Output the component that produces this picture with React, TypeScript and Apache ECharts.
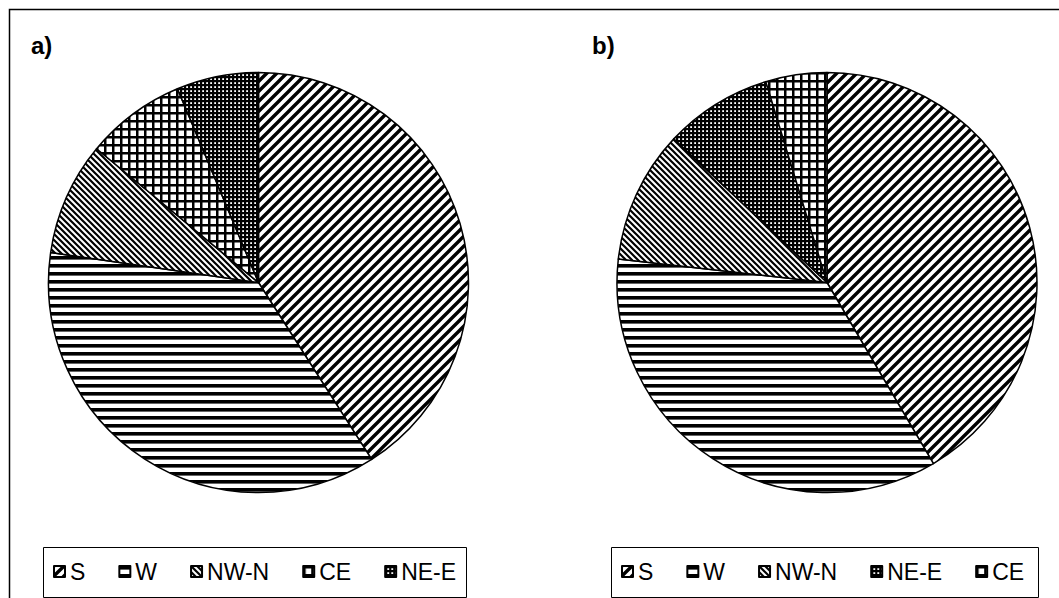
import React, { useEffect, useRef } from "react";
import * as echarts from "echarts";

const namesA = ["S", "W", "NW-N", "CE", "NE-E"];
const valuesA = [40.9, 36.3, 8.7, 7.7, 6.3];
const namesB = ["S", "W", "NW-N", "NE-E", "CE"];
const valuesB = [41.5, 35.2, 10.2, 8.3, 4.7];
const panelLabels = ["a)", "b)"];

function pat(inner: string, w: number, h: number) {
  const svg = `<svg xmlns="http://www.w3.org/2000/svg" width="${w}" height="${h}"><rect width="${w}" height="${h}" fill="#fff"/>${inner}</svg>`;
  return {
    image: "data:image/svg+xml;charset=utf-8," + encodeURIComponent(svg),
    repeat: "repeat",
    imageWidth: w,
    imageHeight: h,
  } as any;
}

const patterns: Record<string, any> = {
  S: pat(
    `<path d="M-5,5 L5,-5 M0,10 L10,0 M5,15 L15,5" stroke="#000" stroke-width="3.4"/>`,
    10,
    10
  ),
  W: pat(`<rect x="0" y="0" width="8" height="3.6" fill="#000"/>`, 8, 8),
  "NW-N": pat(
    `<path d="M-3,3 L3,9 M0,0 L6,6 M3,-3 L9,3" stroke="#000" stroke-width="2.2"/>`,
    6,
    6
  ),
  CE: pat(
    `<rect x="0" y="0" width="2.5" height="8" fill="#000"/><rect x="0" y="0" width="8" height="2.5" fill="#000"/>`,
    8,
    8
  ),
  "NE-E": pat(
    `<rect x="0" y="0" width="2.2" height="4" fill="#000"/><rect x="0" y="0" width="4" height="2.2" fill="#000"/>`,
    4,
    4
  ),
};

function makeData(names: string[], values: number[]) {
  return names.map((n, i) => ({
    name: n,
    value: values[i],
    itemStyle: { color: patterns[n] },
  }));
}

const FONT = "'Liberation Sans', Arial, sans-serif";

export default function App() {
  const ref = useRef<HTMLDivElement>(null);
  useEffect(() => {
    if (!ref.current) return;
    const chart = echarts.init(ref.current, undefined, { renderer: "svg" });
    const pieBase = {
      type: "pie",
      radius: 210,
      startAngle: 90,
      clockwise: true,
      label: { show: false },
      labelLine: { show: false },
      itemStyle: { borderColor: "#000", borderWidth: 1.5 },
      emphasis: { disabled: true },
      silent: true,
    };
    const legendBase = {
      orient: "horizontal",
      top: 560,
      padding: 0,
      icon: "rect",
      itemWidth: 11,
      itemHeight: 11,
      itemGap: 33,
      selectedMode: false,
      textStyle: { fontSize: 23, fontFamily: FONT, color: "#000" },
    };
    chart.setOption({
      animation: false,
      backgroundColor: "#fff",
      legend: [
        { ...legendBase, data: namesA, left: 53 },
        { ...legendBase, data: namesB, left: 621 },
      ],
      series: [
        { ...pieBase, name: "a", center: [258.5, 282.5], data: makeData(namesA, valuesA) },
        { ...pieBase, name: "b", center: [827, 282.5], data: makeData(namesB, valuesB) },
      ],
      graphic: [
        {
          type: "rect",
          shape: { x: 9.5, y: 9.5, width: 1200, height: 800 },
          style: { fill: "none", stroke: "#000", lineWidth: 1.5 },
          silent: true,
        },
        {
          type: "rect",
          shape: { x: 43.5, y: 547.5, width: 423, height: 50 },
          style: { fill: "none", stroke: "#000", lineWidth: 1 },
          silent: true,
        },
        {
          type: "rect",
          shape: { x: 611.5, y: 547.5, width: 427, height: 50 },
          style: { fill: "none", stroke: "#000", lineWidth: 1 },
          silent: true,
        },
        {
          type: "text",
          x: 31,
          y: 33,
          style: { text: panelLabels[0], font: `bold 24px ${FONT}`, fill: "#000", verticalAlign: "top" },
        },
        {
          type: "text",
          x: 592,
          y: 33,
          style: { text: panelLabels[1], font: `bold 24px ${FONT}`, fill: "#000", verticalAlign: "top" },
        },
      ],
    });
    return () => chart.dispose();
  }, []);
  return (
    <div
      ref={ref}
      style={{ position: "absolute", left: 0, top: 0, width: 1059, height: 598 }}
    />
  );
}
